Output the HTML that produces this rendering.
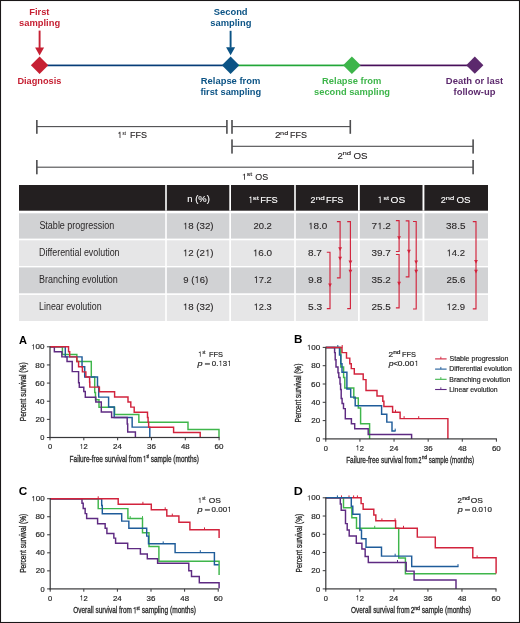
<!DOCTYPE html>
<html><head><meta charset="utf-8"><style>
html,body{margin:0;padding:0;background:#fff;}
svg{display:block;font-family:"Liberation Sans",sans-serif;will-change:transform;}
</style></head><body>
<svg width="520" height="623" viewBox="0 0 520 623">
<rect x="0" y="0" width="520" height="623" fill="#fff"/>
<rect x="47" y="64.55" width="177" height="1.7" fill="#063d78"/>
<rect x="237" y="64.55" width="108" height="1.7" fill="#22a638"/>
<rect x="358" y="64.55" width="110" height="1.7" fill="#470f5a"/>
<path d="M30.90,65.20 L39.60,56.50 L48.30,65.20 L39.60,73.90 Z" fill="#c62033"/>
<path d="M221.90,65.20 L230.60,56.50 L239.30,65.20 L230.60,73.90 Z" fill="#0b5385"/>
<path d="M343.10,65.20 L351.90,56.40 L360.70,65.20 L351.90,74.00 Z" fill="#3db54a"/>
<path d="M466.20,65.20 L474.80,56.60 L483.40,65.20 L474.80,73.80 Z" fill="#5c296d"/>
<rect x="38.65" y="30.60" width="1.9" height="17.50" fill="#c62033"/>
<path d="M35.10,47.60 L44.10,47.60 L39.60,55.60 Z" fill="#c62033"/>
<rect x="229.65" y="30.80" width="1.9" height="16.90" fill="#0b5385"/>
<path d="M226.10,47.20 L235.10,47.20 L230.60,55.20 Z" fill="#0b5385"/>
<text x="29.18" y="14.90" font-size="9.3" font-weight="bold" fill="#c62033" textLength="20.32" lengthAdjust="spacingAndGlyphs">First</text>
<text x="19.06" y="26.00" font-size="9.3" font-weight="bold" fill="#c62033" textLength="41.07" lengthAdjust="spacingAndGlyphs">sampling</text>
<text x="17.39" y="84.00" font-size="9.3" font-weight="bold" fill="#c62033" textLength="43.98" lengthAdjust="spacingAndGlyphs">Diagnosis</text>
<text x="213.72" y="15.20" font-size="9.3" font-weight="bold" fill="#0b5385" textLength="33.88" lengthAdjust="spacingAndGlyphs">Second</text>
<text x="210.26" y="25.90" font-size="9.3" font-weight="bold" fill="#0b5385" textLength="41.17" lengthAdjust="spacingAndGlyphs">sampling</text>
<text x="200.78" y="84.30" font-size="9.3" font-weight="bold" fill="#0b5385" textLength="59.60" lengthAdjust="spacingAndGlyphs">Relapse from</text>
<text x="200.45" y="95.10" font-size="9.3" font-weight="bold" fill="#0b5385" textLength="60.77" lengthAdjust="spacingAndGlyphs">first sampling</text>
<text x="322.08" y="83.90" font-size="9.3" font-weight="bold" fill="#3db54a" textLength="59.29" lengthAdjust="spacingAndGlyphs">Relapse from</text>
<text x="314.07" y="94.70" font-size="9.3" font-weight="bold" fill="#3db54a" textLength="75.95" lengthAdjust="spacingAndGlyphs">second sampling</text>
<text x="445.88" y="83.90" font-size="9.3" font-weight="bold" fill="#5c296d" textLength="57.23" lengthAdjust="spacingAndGlyphs">Death or last</text>
<text x="453.55" y="94.70" font-size="9.3" font-weight="bold" fill="#5c296d" textLength="41.84" lengthAdjust="spacingAndGlyphs">follow-up</text>
<rect x="36.85" y="126.05" width="190.05" height="1.1" fill="#4d4d4f"/>
<rect x="36.05" y="120.00" width="1.6" height="13.80" fill="#4d4d4f"/>
<rect x="226.10" y="120.00" width="1.6" height="13.80" fill="#4d4d4f"/>
<rect x="232.00" y="126.05" width="118.30" height="1.1" fill="#4d4d4f"/>
<rect x="231.20" y="120.00" width="1.6" height="13.80" fill="#4d4d4f"/>
<rect x="349.50" y="120.00" width="1.6" height="13.80" fill="#4d4d4f"/>
<rect x="232.00" y="145.75" width="241.10" height="1.1" fill="#4d4d4f"/>
<rect x="231.20" y="139.40" width="1.6" height="14.20" fill="#4d4d4f"/>
<rect x="472.30" y="139.40" width="1.6" height="14.20" fill="#4d4d4f"/>
<rect x="36.85" y="166.65" width="436.25" height="1.1" fill="#4d4d4f"/>
<rect x="36.05" y="160.00" width="1.6" height="14.30" fill="#4d4d4f"/>
<rect x="472.30" y="160.00" width="1.6" height="14.30" fill="#4d4d4f"/>
<path d="M119.62,131.81 L120.40,131.81 L120.40,137.90 L119.62,137.90 L119.62,133.38 L118.25,133.38 L118.25,132.81 C119.08,132.77 119.56,132.51 119.62,131.81 Z" fill="#231f20"/>
<text x="122.58" y="134.59" font-size="5.916" fill="#231f20" textLength="3.25" lengthAdjust="spacingAndGlyphs" stroke="#231f20" stroke-width="0.12">st</text>
<text x="130.06" y="137.90" font-size="8.7" fill="#231f20" textLength="16.94" lengthAdjust="spacingAndGlyphs" stroke="#231f20" stroke-width="0.12">FFS</text>
<text x="275.00" y="137.90" font-size="8.7" fill="#231f20" textLength="5.61" lengthAdjust="spacingAndGlyphs" stroke="#231f20" stroke-width="0.12">2</text>
<text x="280.12" y="134.59" font-size="5.916" fill="#231f20" textLength="8.16" lengthAdjust="spacingAndGlyphs" stroke="#231f20" stroke-width="0.12">nd</text>
<text x="290.12" y="137.90" font-size="8.7" fill="#231f20" textLength="16.88" lengthAdjust="spacingAndGlyphs" stroke="#231f20" stroke-width="0.12">FFS</text>
<text x="337.62" y="158.75" font-size="8.7" fill="#231f20" textLength="5.37" lengthAdjust="spacingAndGlyphs" stroke="#231f20" stroke-width="0.12">2</text>
<text x="342.49" y="155.44" font-size="5.916" fill="#231f20" textLength="8.61" lengthAdjust="spacingAndGlyphs" stroke="#231f20" stroke-width="0.12">nd</text>
<text x="353.53" y="158.75" font-size="8.7" fill="#231f20" textLength="14.11" lengthAdjust="spacingAndGlyphs" stroke="#231f20" stroke-width="0.12">OS</text>
<path d="M244.12,173.71 L244.90,173.71 L244.90,179.80 L244.12,179.80 L244.12,175.28 L242.75,175.28 L242.75,174.71 C243.58,174.67 244.06,174.41 244.12,173.71 Z" fill="#231f20"/>
<text x="246.65" y="176.49" font-size="5.916" fill="#231f20" textLength="5.50" lengthAdjust="spacingAndGlyphs" stroke="#231f20" stroke-width="0.12">st</text>
<text x="255.27" y="179.80" font-size="8.7" fill="#231f20" textLength="12.88" lengthAdjust="spacingAndGlyphs" stroke="#231f20" stroke-width="0.12">OS</text>
<rect x="19" y="185" width="469" height="25.7" fill="#231f20"/>
<rect x="165.20" y="185" width="1.60" height="25.7" fill="#fff"/>
<rect x="229.30" y="185" width="1.70" height="25.7" fill="#fff"/>
<rect x="294.20" y="185" width="1.60" height="25.7" fill="#fff"/>
<rect x="358.00" y="185" width="1.80" height="25.7" fill="#fff"/>
<rect x="422.50" y="185" width="1.90" height="25.7" fill="#fff"/>
<rect x="19.00" y="213.30" width="146.20" height="25.30" fill="#d1d2d4"/>
<rect x="166.80" y="213.30" width="62.50" height="25.30" fill="#d1d2d4"/>
<rect x="231.00" y="213.30" width="63.20" height="25.30" fill="#d1d2d4"/>
<rect x="295.80" y="213.30" width="62.20" height="25.30" fill="#d1d2d4"/>
<rect x="359.80" y="213.30" width="62.70" height="25.30" fill="#d1d2d4"/>
<rect x="424.40" y="213.30" width="63.60" height="25.30" fill="#d1d2d4"/>
<rect x="19.00" y="240.30" width="146.20" height="25.70" fill="#e6e6e7"/>
<rect x="166.80" y="240.30" width="62.50" height="25.70" fill="#e6e6e7"/>
<rect x="231.00" y="240.30" width="63.20" height="25.70" fill="#e6e6e7"/>
<rect x="295.80" y="240.30" width="62.20" height="25.70" fill="#e6e6e7"/>
<rect x="359.80" y="240.30" width="62.70" height="25.70" fill="#e6e6e7"/>
<rect x="424.40" y="240.30" width="63.60" height="25.70" fill="#e6e6e7"/>
<rect x="19.00" y="267.40" width="146.20" height="25.90" fill="#d1d2d4"/>
<rect x="166.80" y="267.40" width="62.50" height="25.90" fill="#d1d2d4"/>
<rect x="231.00" y="267.40" width="63.20" height="25.90" fill="#d1d2d4"/>
<rect x="295.80" y="267.40" width="62.20" height="25.90" fill="#d1d2d4"/>
<rect x="359.80" y="267.40" width="62.70" height="25.90" fill="#d1d2d4"/>
<rect x="424.40" y="267.40" width="63.60" height="25.90" fill="#d1d2d4"/>
<rect x="19.00" y="294.90" width="146.20" height="26.10" fill="#e6e6e7"/>
<rect x="166.80" y="294.90" width="62.50" height="26.10" fill="#e6e6e7"/>
<rect x="231.00" y="294.90" width="63.20" height="26.10" fill="#e6e6e7"/>
<rect x="295.80" y="294.90" width="62.20" height="26.10" fill="#e6e6e7"/>
<rect x="359.80" y="294.90" width="62.70" height="26.10" fill="#e6e6e7"/>
<rect x="424.40" y="294.90" width="63.60" height="26.10" fill="#e6e6e7"/>
<text x="187.38" y="202.30" font-size="9.3" fill="#ffffff" textLength="22.44" lengthAdjust="spacingAndGlyphs" stroke="#ffffff" stroke-width="0.12">n (%)</text>
<path d="M250.46,196.39 L251.30,196.39 L251.30,202.90 L250.46,202.90 L250.46,198.06 L249.00,198.06 L249.00,197.46 C249.89,197.41 250.40,197.13 250.46,196.39 Z" fill="#ffffff"/>
<text x="252.78" y="200.39" font-size="5.766" fill="#ffffff" textLength="6.03" lengthAdjust="spacingAndGlyphs" stroke="#ffffff" stroke-width="0.12">st</text>
<text x="260.24" y="202.90" font-size="9.3" fill="#ffffff" textLength="17.47" lengthAdjust="spacingAndGlyphs" stroke="#ffffff" stroke-width="0.12">FFS</text>
<text x="310.56" y="202.90" font-size="9.3" fill="#ffffff" textLength="4.88" lengthAdjust="spacingAndGlyphs" stroke="#ffffff" stroke-width="0.12">2</text>
<text x="315.66" y="200.11" font-size="5.766" fill="#ffffff" textLength="9.06" lengthAdjust="spacingAndGlyphs" stroke="#ffffff" stroke-width="0.12">nd</text>
<text x="326.05" y="202.90" font-size="9.3" fill="#ffffff" textLength="17.26" lengthAdjust="spacingAndGlyphs" stroke="#ffffff" stroke-width="0.12">FFS</text>
<path d="M379.76,196.39 L380.60,196.39 L380.60,202.90 L379.76,202.90 L379.76,198.06 L378.30,198.06 L378.30,197.46 C379.19,197.41 379.70,197.13 379.76,196.39 Z" fill="#ffffff"/>
<text x="383.55" y="200.11" font-size="5.766" fill="#ffffff" textLength="5.50" lengthAdjust="spacingAndGlyphs" stroke="#ffffff" stroke-width="0.12">st</text>
<text x="390.51" y="202.90" font-size="9.3" fill="#ffffff" textLength="14.69" lengthAdjust="spacingAndGlyphs" stroke="#ffffff" stroke-width="0.12">OS</text>
<text x="440.79" y="202.90" font-size="9.3" fill="#ffffff" textLength="5.06" lengthAdjust="spacingAndGlyphs" stroke="#ffffff" stroke-width="0.12">2</text>
<text x="445.85" y="200.11" font-size="5.766" fill="#ffffff" textLength="8.38" lengthAdjust="spacingAndGlyphs" stroke="#ffffff" stroke-width="0.12">nd</text>
<text x="456.43" y="202.90" font-size="9.3" fill="#ffffff" textLength="14.11" lengthAdjust="spacingAndGlyphs" stroke="#ffffff" stroke-width="0.12">OS</text>
<text x="39.39" y="229.30" font-size="10.0" fill="#2b2829" textLength="74.99" lengthAdjust="spacingAndGlyphs">Stable progression</text>
<text x="39.07" y="256.20" font-size="10.0" fill="#2b2829" textLength="80.50" lengthAdjust="spacingAndGlyphs">Differential evolution</text>
<text x="39.06" y="283.00" font-size="10.0" fill="#2b2829" textLength="78.81" lengthAdjust="spacingAndGlyphs">Branching evolution</text>
<text x="39.07" y="310.10" font-size="10.0" fill="#2b2829" textLength="62.50" lengthAdjust="spacingAndGlyphs">Linear evolution</text>
<path d="M185.33,222.65 L186.20,222.65 L186.20,229.30 L185.33,229.30 L185.33,224.36 L183.80,224.36 L183.80,223.74 C184.72,223.70 185.26,223.41 185.33,222.65 Z" fill="#2b2829"/>
<text x="188.19" y="229.30" font-size="9.5" fill="#2b2829" textLength="25.40" lengthAdjust="spacingAndGlyphs" stroke="#2b2829" stroke-width="0.12">8 (32)</text>
<text x="253.43" y="229.30" font-size="9.5" fill="#2b2829" textLength="18.40" lengthAdjust="spacingAndGlyphs" stroke="#2b2829" stroke-width="0.12">20.2</text>
<path d="M310.61,222.65 L311.51,222.65 L311.51,229.30 L310.61,229.30 L310.61,224.36 L309.05,224.36 L309.05,223.74 C310.00,223.70 310.54,223.41 310.61,222.65 Z" fill="#2b2829"/>
<text x="313.54" y="229.30" font-size="9.5" fill="#2b2829" textLength="13.84" lengthAdjust="spacingAndGlyphs" stroke="#2b2829" stroke-width="0.12">8.0</text>
<text x="371.48" y="229.30" font-size="9.5" fill="#2b2829" textLength="5.55" lengthAdjust="spacingAndGlyphs" stroke="#2b2829" stroke-width="0.12">7</text>
<path d="M379.64,222.65 L380.54,222.65 L380.54,229.30 L379.64,229.30 L379.64,224.36 L378.08,224.36 L378.08,223.74 C379.03,223.70 379.58,223.41 379.64,222.65 Z" fill="#2b2829"/>
<text x="382.58" y="229.30" font-size="9.5" fill="#2b2829" textLength="8.32" lengthAdjust="spacingAndGlyphs" stroke="#2b2829" stroke-width="0.12">.2</text>
<text x="446.12" y="229.30" font-size="9.5" fill="#2b2829" textLength="19.30" lengthAdjust="spacingAndGlyphs" stroke="#2b2829" stroke-width="0.12">38.5</text>
<path d="M185.33,249.55 L186.20,249.55 L186.20,256.20 L185.33,256.20 L185.33,251.26 L183.80,251.26 L183.80,250.64 C184.72,250.59 185.26,250.31 185.33,249.55 Z" fill="#2b2829"/>
<text x="188.19" y="256.20" font-size="9.5" fill="#2b2829" textLength="16.76" lengthAdjust="spacingAndGlyphs" stroke="#2b2829" stroke-width="0.12">2 (2</text>
<path d="M207.49,249.55 L208.36,249.55 L208.36,256.20 L207.49,256.20 L207.49,251.26 L205.96,251.26 L205.96,250.64 C206.89,250.59 207.42,250.31 207.49,249.55 Z" fill="#2b2829"/>
<text x="210.35" y="256.20" font-size="9.5" fill="#2b2829" textLength="3.24" lengthAdjust="spacingAndGlyphs" stroke="#2b2829" stroke-width="0.12">)</text>
<path d="M255.36,249.55 L256.26,249.55 L256.26,256.20 L255.36,256.20 L255.36,251.26 L253.80,251.26 L253.80,250.64 C254.75,250.59 255.29,250.31 255.36,249.55 Z" fill="#2b2829"/>
<text x="258.29" y="256.20" font-size="9.5" fill="#2b2829" textLength="13.84" lengthAdjust="spacingAndGlyphs" stroke="#2b2829" stroke-width="0.12">6.0</text>
<text x="308.06" y="256.20" font-size="9.5" fill="#2b2829" textLength="13.84" lengthAdjust="spacingAndGlyphs" stroke="#2b2829" stroke-width="0.12">8.7</text>
<text x="371.62" y="256.20" font-size="9.5" fill="#2b2829" textLength="19.27" lengthAdjust="spacingAndGlyphs" stroke="#2b2829" stroke-width="0.12">39.7</text>
<path d="M448.94,249.55 L449.80,249.55 L449.80,256.20 L448.94,256.20 L448.94,251.26 L447.45,251.26 L447.45,250.64 C448.35,250.59 448.88,250.31 448.94,249.55 Z" fill="#2b2829"/>
<text x="451.74" y="256.20" font-size="9.5" fill="#2b2829" textLength="13.24" lengthAdjust="spacingAndGlyphs" stroke="#2b2829" stroke-width="0.12">4.2</text>
<text x="183.31" y="283.00" font-size="9.5" fill="#2b2829" textLength="11.06" lengthAdjust="spacingAndGlyphs" stroke="#2b2829" stroke-width="0.12">9 (</text>
<path d="M196.86,276.35 L197.71,276.35 L197.71,283.00 L196.86,283.00 L196.86,278.06 L195.37,278.06 L195.37,277.44 C196.27,277.39 196.79,277.11 196.86,276.35 Z" fill="#2b2829"/>
<text x="199.64" y="283.00" font-size="9.5" fill="#2b2829" textLength="8.43" lengthAdjust="spacingAndGlyphs" stroke="#2b2829" stroke-width="0.12">6)</text>
<path d="M256.01,276.35 L256.85,276.35 L256.85,283.00 L256.01,283.00 L256.01,278.06 L254.55,278.06 L254.55,277.44 C255.43,277.39 255.95,277.11 256.01,276.35 Z" fill="#2b2829"/>
<text x="258.75" y="283.00" font-size="9.5" fill="#2b2829" textLength="12.96" lengthAdjust="spacingAndGlyphs" stroke="#2b2829" stroke-width="0.12">7.2</text>
<text x="308.03" y="283.00" font-size="9.5" fill="#2b2829" textLength="14.22" lengthAdjust="spacingAndGlyphs" stroke="#2b2829" stroke-width="0.12">9.8</text>
<text x="371.62" y="283.00" font-size="9.5" fill="#2b2829" textLength="19.27" lengthAdjust="spacingAndGlyphs" stroke="#2b2829" stroke-width="0.12">35.2</text>
<text x="446.51" y="283.00" font-size="9.5" fill="#2b2829" textLength="18.92" lengthAdjust="spacingAndGlyphs" stroke="#2b2829" stroke-width="0.12">25.6</text>
<path d="M185.33,303.45 L186.20,303.45 L186.20,310.10 L185.33,310.10 L185.33,305.16 L183.80,305.16 L183.80,304.54 C184.72,304.50 185.26,304.21 185.33,303.45 Z" fill="#2b2829"/>
<text x="188.19" y="310.10" font-size="9.5" fill="#2b2829" textLength="25.40" lengthAdjust="spacingAndGlyphs" stroke="#2b2829" stroke-width="0.12">8 (32)</text>
<path d="M256.01,303.45 L256.84,303.45 L256.84,310.10 L256.01,310.10 L256.01,305.16 L254.55,305.16 L254.55,304.54 C255.43,304.50 255.94,304.21 256.01,303.45 Z" fill="#2b2829"/>
<text x="258.74" y="310.10" font-size="9.5" fill="#2b2829" textLength="12.92" lengthAdjust="spacingAndGlyphs" stroke="#2b2829" stroke-width="0.12">2.3</text>
<text x="308.09" y="310.10" font-size="9.5" fill="#2b2829" textLength="14.16" lengthAdjust="spacingAndGlyphs" stroke="#2b2829" stroke-width="0.12">5.3</text>
<text x="371.50" y="310.10" font-size="9.5" fill="#2b2829" textLength="19.32" lengthAdjust="spacingAndGlyphs" stroke="#2b2829" stroke-width="0.12">25.5</text>
<path d="M448.94,303.45 L449.80,303.45 L449.80,310.10 L448.94,310.10 L448.94,305.16 L447.45,305.16 L447.45,304.54 C448.35,304.50 448.87,304.21 448.94,303.45 Z" fill="#2b2829"/>
<text x="451.74" y="310.10" font-size="9.5" fill="#2b2829" textLength="13.22" lengthAdjust="spacingAndGlyphs" stroke="#2b2829" stroke-width="0.12">2.9</text>
<path d="M336.90,221.60 H340.10 V277.80 H336.90" fill="none" stroke="#d2233c" stroke-width="1.15"/>
<path d="M338.20,247.30 L342.00,247.30 L340.10,250.90 Z" fill="#d2233c"/>
<path d="M338.20,256.80 L342.00,256.80 L340.10,260.40 Z" fill="#d2233c"/>
<path d="M347.20,221.60 H350.40 V308.60 H347.20" fill="none" stroke="#d2233c" stroke-width="1.15"/>
<path d="M348.50,260.60 L352.30,260.60 L350.40,264.20 Z" fill="#d2233c"/>
<path d="M348.50,269.80 L352.30,269.80 L350.40,273.40 Z" fill="#d2233c"/>
<path d="M326.80,252.20 H330.00 V308.60 H326.80" fill="none" stroke="#d2233c" stroke-width="1.15"/>
<path d="M328.10,283.40 L331.90,283.40 L330.00,287.00 Z" fill="#d2233c"/>
<path d="M395.90,220.60 H399.10 V251.50 H395.90" fill="none" stroke="#d2233c" stroke-width="1.15"/>
<path d="M397.20,236.20 L401.00,236.20 L399.10,239.80 Z" fill="#d2233c"/>
<path d="M395.90,254.50 H399.10 V307.80 H395.90" fill="none" stroke="#d2233c" stroke-width="1.15"/>
<path d="M397.20,281.80 L401.00,281.80 L399.10,285.40 Z" fill="#d2233c"/>
<path d="M405.70,220.80 H408.90 V276.80 H405.70" fill="none" stroke="#d2233c" stroke-width="1.15"/>
<path d="M407.00,249.80 L410.80,249.80 L408.90,253.40 Z" fill="#d2233c"/>
<path d="M413.00,221.50 H416.20 V309.00 H413.00" fill="none" stroke="#d2233c" stroke-width="1.15"/>
<path d="M414.30,260.40 L418.10,260.40 L416.20,264.00 Z" fill="#d2233c"/>
<path d="M414.30,269.80 L418.10,269.80 L416.20,273.40 Z" fill="#d2233c"/>
<path d="M472.80,221.60 H476.00 V308.80 H472.80" fill="none" stroke="#d2233c" stroke-width="1.15"/>
<path d="M474.10,260.10 L477.90,260.10 L476.00,263.70 Z" fill="#d2233c"/>
<path d="M474.10,269.80 L477.90,269.80 L476.00,273.40 Z" fill="#d2233c"/>
<text x="18.91" y="343.50" font-size="10.9" font-weight="bold" fill="#000" textLength="7.98" lengthAdjust="spacingAndGlyphs">A</text>
<rect x="46.90" y="437.00" width="3.1" height="1.0" fill="#38383a"/>
<text x="40.27" y="440.10" font-size="7.4" fill="#2a2a2a" textLength="4.17" lengthAdjust="spacingAndGlyphs" stroke="#2a2a2a" stroke-width="0.2">0</text>
<rect x="46.90" y="418.86" width="3.1" height="1.0" fill="#38383a"/>
<text x="35.55" y="421.96" font-size="7.4" fill="#2a2a2a" textLength="8.91" lengthAdjust="spacingAndGlyphs" stroke="#2a2a2a" stroke-width="0.2">20</text>
<rect x="46.90" y="400.72" width="3.1" height="1.0" fill="#38383a"/>
<text x="35.57" y="403.82" font-size="7.4" fill="#2a2a2a" textLength="8.88" lengthAdjust="spacingAndGlyphs" stroke="#2a2a2a" stroke-width="0.2">40</text>
<rect x="46.90" y="382.58" width="3.1" height="1.0" fill="#38383a"/>
<text x="35.34" y="385.68" font-size="7.4" fill="#2a2a2a" textLength="9.12" lengthAdjust="spacingAndGlyphs" stroke="#2a2a2a" stroke-width="0.2">60</text>
<rect x="46.90" y="364.44" width="3.1" height="1.0" fill="#38383a"/>
<text x="35.39" y="367.54" font-size="7.4" fill="#2a2a2a" textLength="9.07" lengthAdjust="spacingAndGlyphs" stroke="#2a2a2a" stroke-width="0.2">80</text>
<rect x="46.90" y="346.30" width="3.1" height="1.0" fill="#38383a"/>
<path d="M33.15,344.22 L33.88,344.22 L33.88,349.40 L33.15,349.40 L33.15,345.55 L31.89,345.55 L31.89,345.07 C32.65,345.03 33.10,344.81 33.15,344.22 Z" fill="#2a2a2a"/>
<text x="35.52" y="349.40" font-size="7.4" fill="#2a2a2a" textLength="8.94" lengthAdjust="spacingAndGlyphs" stroke="#2a2a2a" stroke-width="0.2">00</text>
<rect x="49.50" y="437.50" width="1.0" height="2.8" fill="#38383a"/>
<text x="47.92" y="449.10" font-size="7.4" fill="#2a2a2a" textLength="4.17" lengthAdjust="spacingAndGlyphs" stroke="#2a2a2a" stroke-width="0.2">0</text>
<rect x="83.32" y="437.50" width="1.0" height="2.8" fill="#38383a"/>
<path d="M81.40,443.92 L82.08,443.92 L82.08,449.10 L81.40,449.10 L81.40,445.25 L80.21,445.25 L80.21,444.77 C80.93,444.73 81.35,444.51 81.40,443.92 Z" fill="#2a2a2a"/>
<text x="83.63" y="449.10" font-size="7.4" fill="#2a2a2a" textLength="4.22" lengthAdjust="spacingAndGlyphs" stroke="#2a2a2a" stroke-width="0.2">2</text>
<rect x="117.14" y="437.50" width="1.0" height="2.8" fill="#38383a"/>
<text x="113.14" y="449.10" font-size="7.4" fill="#2a2a2a" textLength="8.82" lengthAdjust="spacingAndGlyphs" stroke="#2a2a2a" stroke-width="0.2">24</text>
<rect x="150.96" y="437.50" width="1.0" height="2.8" fill="#38383a"/>
<text x="147.06" y="449.10" font-size="7.4" fill="#2a2a2a" textLength="8.86" lengthAdjust="spacingAndGlyphs" stroke="#2a2a2a" stroke-width="0.2">36</text>
<rect x="184.78" y="437.50" width="1.0" height="2.8" fill="#38383a"/>
<text x="181.01" y="449.10" font-size="7.4" fill="#2a2a2a" textLength="8.72" lengthAdjust="spacingAndGlyphs" stroke="#2a2a2a" stroke-width="0.2">48</text>
<rect x="218.60" y="437.50" width="1.0" height="2.8" fill="#38383a"/>
<text x="214.60" y="449.10" font-size="7.4" fill="#2a2a2a" textLength="8.91" lengthAdjust="spacingAndGlyphs" stroke="#2a2a2a" stroke-width="0.2">60</text>
<path d="M50.00,346.80 H62.4 V354.5 H76.85 V361.5 H91.3 V377 H94.7 V392.5 H95.5 V399.7 H99 V407.2 H114.6 V414.5 H138.85 V422.2 H188.0 V429.4 H219 V437.2" fill="none" stroke="#3fb64b" stroke-width="1.45" stroke-linejoin="miter" stroke-linecap="butt"/>
<path d="M50.00,346.80 H65.3 V356.85 H82.04 V366.65 H84.7 V377 H97.5 V386.5 H98.7 V397.1 H108.6 V406.9 H114.2 V417.4 H132.15 V427.1 H149.8 V437.2" fill="none" stroke="#1f5c9a" stroke-width="1.45" stroke-linejoin="miter" stroke-linecap="butt"/>
<path d="M50.00,346.80 H54.35 V351.65 H61.85 V356.85 H67.04 V361.46 H72.23 V371.6 H78.58 V382.8 H79.3 V387.3 H83.8 V391.5 H85.3 V397.2 H95.8 V402 H101.3 V412 H111.6 V417.4 H127.2 V424 H127.7 V431.9 H135.4 V437.2" fill="none" stroke="#5e2a82" stroke-width="1.45" stroke-linejoin="miter" stroke-linecap="butt"/>
<path d="M50.00,346.80 H68.54 V351.65 H69.7 V356.85 H76.85 V361.46 H78.58 V366.65 H82.4 V371.85 H85.85 V377 H89.6 V382 H89.8 V387.1 H99.4 V391.8 H114.6 V397 H128.0 V401.9 H130.8 V407.1 H134.2 V412.3 H147.5 V417.5 H148.1 V422.3 H148.65 V427.2 H173.6 V432.5 H200.2 V437.2" fill="none" stroke="#d2233c" stroke-width="1.45" stroke-linejoin="miter" stroke-linecap="butt"/>
<rect x="49.40" y="346.30" width="1.2" height="91.80" fill="#38383a"/>
<rect x="49.40" y="436.90" width="170.20" height="1.2" fill="#38383a"/>
<g transform="translate(26.00,420.70) rotate(-90)">
<text x="-0.54" y="0.00" font-size="9.0" fill="#2a2a2a" textLength="58.84" lengthAdjust="spacingAndGlyphs" stroke="#2a2a2a" stroke-width="0.32">Percent survival (%)</text>
</g>
<text x="69.56" y="462.00" font-size="9.0" fill="#2a2a2a" textLength="72.36" lengthAdjust="spacingAndGlyphs" stroke="#2a2a2a" stroke-width="0.32">Failure-free survival from</text>
<path d="M144.39,455.70 L145.20,455.70 L145.20,462.00 L144.39,462.00 L144.39,457.32 L142.98,457.32 L142.98,456.74 C143.83,456.69 144.33,456.42 144.39,455.70 Z" fill="#2a2a2a"/>
<text x="146.41" y="458.40" font-size="5.3999999999999995" fill="#2a2a2a" textLength="2.52" lengthAdjust="spacingAndGlyphs" stroke="#2a2a2a" stroke-width="0.32">st</text>
<text x="150.72" y="462.00" font-size="9.0" fill="#2a2a2a" textLength="48.17" lengthAdjust="spacingAndGlyphs" stroke="#2a2a2a" stroke-width="0.32">sample (months)</text>
<path d="M199.93,351.57 L200.60,351.57 L200.60,356.75 L199.93,356.75 L199.93,352.90 L198.77,352.90 L198.77,352.42 C199.48,352.38 199.88,352.16 199.93,351.57 Z" fill="#2a2a2a"/>
<text x="202.39" y="353.64" font-size="4.44" fill="#2a2a2a" textLength="3.04" lengthAdjust="spacingAndGlyphs" stroke="#2a2a2a" stroke-width="0.2">st</text>
<text x="209.10" y="356.75" font-size="7.4" fill="#2a2a2a" textLength="13.93" lengthAdjust="spacingAndGlyphs" stroke="#2a2a2a" stroke-width="0.2">FFS</text>
<text x="197.42" y="365.90" font-size="7.4" font-style="italic" fill="#2a2a2a" textLength="5.07" lengthAdjust="spacingAndGlyphs" stroke="#2a2a2a" stroke-width="0.2">p</text>
<rect x="204.90" y="362.95" width="5.00" height="1.9" fill="#767676"/>
<text x="211.80" y="365.90" font-size="7.4" fill="#2a2a2a" textLength="6.57" lengthAdjust="spacingAndGlyphs" stroke="#2a2a2a" stroke-width="0.2">0.</text>
<path d="M220.44,360.72 L221.15,360.72 L221.15,365.90 L220.44,365.90 L220.44,362.05 L219.20,362.05 L219.20,361.57 C219.95,361.53 220.38,361.31 220.44,360.72 Z" fill="#2a2a2a"/>
<text x="222.76" y="365.90" font-size="7.4" fill="#2a2a2a" textLength="4.38" lengthAdjust="spacingAndGlyphs" stroke="#2a2a2a" stroke-width="0.2">3</text>
<path d="M229.21,360.72 L229.92,360.72 L229.92,365.90 L229.21,365.90 L229.21,362.05 L227.97,362.05 L227.97,361.57 C228.72,361.53 229.15,361.31 229.21,360.72 Z" fill="#2a2a2a"/>
<text x="294.13" y="343.20" font-size="10.9" font-weight="bold" fill="#000" textLength="8.41" lengthAdjust="spacingAndGlyphs">B</text>
<rect x="322.70" y="438.40" width="3.1" height="1.0" fill="#38383a"/>
<text x="316.06" y="441.50" font-size="7.4" fill="#2a2a2a" textLength="4.17" lengthAdjust="spacingAndGlyphs" stroke="#2a2a2a" stroke-width="0.2">0</text>
<rect x="322.70" y="420.10" width="3.1" height="1.0" fill="#38383a"/>
<text x="311.35" y="423.20" font-size="7.4" fill="#2a2a2a" textLength="8.91" lengthAdjust="spacingAndGlyphs" stroke="#2a2a2a" stroke-width="0.2">20</text>
<rect x="322.70" y="401.80" width="3.1" height="1.0" fill="#38383a"/>
<text x="311.37" y="404.90" font-size="7.4" fill="#2a2a2a" textLength="8.88" lengthAdjust="spacingAndGlyphs" stroke="#2a2a2a" stroke-width="0.2">40</text>
<rect x="322.70" y="383.50" width="3.1" height="1.0" fill="#38383a"/>
<text x="311.14" y="386.60" font-size="7.4" fill="#2a2a2a" textLength="9.12" lengthAdjust="spacingAndGlyphs" stroke="#2a2a2a" stroke-width="0.2">60</text>
<rect x="322.70" y="365.20" width="3.1" height="1.0" fill="#38383a"/>
<text x="311.19" y="368.30" font-size="7.4" fill="#2a2a2a" textLength="9.07" lengthAdjust="spacingAndGlyphs" stroke="#2a2a2a" stroke-width="0.2">80</text>
<rect x="322.70" y="346.90" width="3.1" height="1.0" fill="#38383a"/>
<path d="M308.95,344.82 L309.68,344.82 L309.68,350.00 L308.95,350.00 L308.95,346.15 L307.69,346.15 L307.69,345.67 C308.45,345.63 308.90,345.41 308.95,344.82 Z" fill="#2a2a2a"/>
<text x="311.32" y="350.00" font-size="7.4" fill="#2a2a2a" textLength="8.94" lengthAdjust="spacingAndGlyphs" stroke="#2a2a2a" stroke-width="0.2">00</text>
<rect x="325.30" y="438.90" width="1.0" height="2.8" fill="#38383a"/>
<text x="323.71" y="450.50" font-size="7.4" fill="#2a2a2a" textLength="4.17" lengthAdjust="spacingAndGlyphs" stroke="#2a2a2a" stroke-width="0.2">0</text>
<rect x="359.42" y="438.90" width="1.0" height="2.8" fill="#38383a"/>
<path d="M357.50,445.32 L358.18,445.32 L358.18,450.50 L357.50,450.50 L357.50,446.65 L356.31,446.65 L356.31,446.17 C357.03,446.13 357.45,445.91 357.50,445.32 Z" fill="#2a2a2a"/>
<text x="359.73" y="450.50" font-size="7.4" fill="#2a2a2a" textLength="4.22" lengthAdjust="spacingAndGlyphs" stroke="#2a2a2a" stroke-width="0.2">2</text>
<rect x="393.54" y="438.90" width="1.0" height="2.8" fill="#38383a"/>
<text x="389.54" y="450.50" font-size="7.4" fill="#2a2a2a" textLength="8.82" lengthAdjust="spacingAndGlyphs" stroke="#2a2a2a" stroke-width="0.2">24</text>
<rect x="427.66" y="438.90" width="1.0" height="2.8" fill="#38383a"/>
<text x="423.76" y="450.50" font-size="7.4" fill="#2a2a2a" textLength="8.86" lengthAdjust="spacingAndGlyphs" stroke="#2a2a2a" stroke-width="0.2">36</text>
<rect x="461.78" y="438.90" width="1.0" height="2.8" fill="#38383a"/>
<text x="458.01" y="450.50" font-size="7.4" fill="#2a2a2a" textLength="8.72" lengthAdjust="spacingAndGlyphs" stroke="#2a2a2a" stroke-width="0.2">48</text>
<rect x="495.90" y="438.90" width="1.0" height="2.8" fill="#38383a"/>
<text x="491.90" y="450.50" font-size="7.4" fill="#2a2a2a" textLength="8.91" lengthAdjust="spacingAndGlyphs" stroke="#2a2a2a" stroke-width="0.2">60</text>
<path d="M325.80,347.40 H340.8 V367 H343.6 V377.5 H344.8 V388 H353.8 V398 H358.3 V407.9 H360.6 V423.8 H369.6 V438.9" fill="none" stroke="#3fb64b" stroke-width="1.45" stroke-linejoin="miter" stroke-linecap="butt"/>
<path d="M325.80,347.40 H339.5 V355 H340.8 V363.8 H342 V372.3 H346.9 V389 H350.7 V397.1 H355.2 V405.8 H381.6 V414.2 H386.8 V422.1 H392 V431 H395.6" fill="none" stroke="#1f5c9a" stroke-width="1.45" stroke-linejoin="miter" stroke-linecap="butt"/>
<rect x="337.30" y="345.00" width="1.0" height="2.4" fill="#1f5c9a"/>
<rect x="394.70" y="428.60" width="1.0" height="2.4" fill="#1f5c9a"/>
<path d="M325.80,347.40 H334.6 V352.6 H335.2 V359.8 H336 V367 H338 V372.7 H338.8 V377.5 H340 V383.9 H340.6 V389.5 H341.2 V398.5 H342.1 V403.4 H343.5 V408.6 H345.3 V418.7 H351.4 V423.7 H354.7 V428.8 H368.2 V434.4 H411.6 V438.9" fill="none" stroke="#5e2a82" stroke-width="1.45" stroke-linejoin="miter" stroke-linecap="butt"/>
<path d="M325.80,347.40 H342 V352.6 H346.5 V358.1 H349.8 V363.8 H351.3 V368.6 H354.3 V374 H363.2 V379.6 H366 V390.5 H377 V396 H382.8 V401.3 H383.9 V406.4 H392.6 V412.2 H400.1 V418.6 H447.9 V438.9" fill="none" stroke="#d2233c" stroke-width="1.45" stroke-linejoin="miter" stroke-linecap="butt"/>
<rect x="341.70" y="345.00" width="1.0" height="2.4" fill="#d2233c"/>
<rect x="395.00" y="409.80" width="1.0" height="2.4" fill="#d2233c"/>
<rect x="403.60" y="416.20" width="1.0" height="2.4" fill="#d2233c"/>
<rect x="418.20" y="416.20" width="1.0" height="2.4" fill="#d2233c"/>
<rect x="325.20" y="346.90" width="1.2" height="92.60" fill="#38383a"/>
<rect x="325.20" y="438.30" width="171.70" height="1.2" fill="#38383a"/>
<g transform="translate(301.25,421.90) rotate(-90)">
<text x="-0.54" y="0.00" font-size="9.0" fill="#2a2a2a" textLength="58.84" lengthAdjust="spacingAndGlyphs" stroke="#2a2a2a" stroke-width="0.32">Percent survival (%)</text>
</g>
<text x="346.17" y="462.80" font-size="9.0" fill="#2a2a2a" textLength="71.44" lengthAdjust="spacingAndGlyphs" stroke="#2a2a2a" stroke-width="0.32">Failure-free survival from</text>
<text x="418.59" y="462.80" font-size="9.0" fill="#2a2a2a" textLength="2.87" lengthAdjust="spacingAndGlyphs" stroke="#2a2a2a" stroke-width="0.32">2</text>
<text x="421.90" y="459.20" font-size="5.3999999999999995" fill="#2a2a2a" textLength="4.98" lengthAdjust="spacingAndGlyphs" stroke="#2a2a2a" stroke-width="0.32">nd</text>
<text x="428.73" y="462.80" font-size="9.0" fill="#2a2a2a" textLength="45.44" lengthAdjust="spacingAndGlyphs" stroke="#2a2a2a" stroke-width="0.32">sample (months)</text>
<text x="388.58" y="356.75" font-size="7.4" fill="#2a2a2a" textLength="4.63" lengthAdjust="spacingAndGlyphs" stroke="#2a2a2a" stroke-width="0.2">2</text>
<text x="393.16" y="353.64" font-size="4.44" fill="#2a2a2a" textLength="7.36" lengthAdjust="spacingAndGlyphs" stroke="#2a2a2a" stroke-width="0.2">nd</text>
<text x="402.10" y="356.75" font-size="7.4" fill="#2a2a2a" textLength="13.93" lengthAdjust="spacingAndGlyphs" stroke="#2a2a2a" stroke-width="0.2">FFS</text>
<text x="388.81" y="365.90" font-size="7.4" font-style="italic" fill="#2a2a2a" textLength="4.87" lengthAdjust="spacingAndGlyphs" stroke="#2a2a2a" stroke-width="0.2">p</text>
<text x="393.41" y="365.90" font-size="7.4" fill="#2a2a2a" textLength="4.57" lengthAdjust="spacingAndGlyphs" stroke="#2a2a2a" stroke-width="0.2">&lt;</text>
<text x="397.88" y="365.90" font-size="7.4" fill="#2a2a2a" textLength="16.29" lengthAdjust="spacingAndGlyphs" stroke="#2a2a2a" stroke-width="0.2">0.00</text>
<path d="M416.36,360.72 L417.12,360.72 L417.12,365.90 L416.36,365.90 L416.36,362.05 L415.05,362.05 L415.05,361.57 C415.84,361.53 416.30,361.31 416.36,360.72 Z" fill="#2a2a2a"/>
<text x="18.73" y="495.00" font-size="10.9" font-weight="bold" fill="#000" textLength="8.50" lengthAdjust="spacingAndGlyphs">C</text>
<rect x="47.10" y="588.40" width="3.1" height="1.0" fill="#38383a"/>
<text x="40.47" y="591.50" font-size="7.4" fill="#2a2a2a" textLength="4.17" lengthAdjust="spacingAndGlyphs" stroke="#2a2a2a" stroke-width="0.2">0</text>
<rect x="47.10" y="570.36" width="3.1" height="1.0" fill="#38383a"/>
<text x="35.75" y="573.46" font-size="7.4" fill="#2a2a2a" textLength="8.91" lengthAdjust="spacingAndGlyphs" stroke="#2a2a2a" stroke-width="0.2">20</text>
<rect x="47.10" y="552.32" width="3.1" height="1.0" fill="#38383a"/>
<text x="35.77" y="555.42" font-size="7.4" fill="#2a2a2a" textLength="8.88" lengthAdjust="spacingAndGlyphs" stroke="#2a2a2a" stroke-width="0.2">40</text>
<rect x="47.10" y="534.28" width="3.1" height="1.0" fill="#38383a"/>
<text x="35.54" y="537.38" font-size="7.4" fill="#2a2a2a" textLength="9.12" lengthAdjust="spacingAndGlyphs" stroke="#2a2a2a" stroke-width="0.2">60</text>
<rect x="47.10" y="516.24" width="3.1" height="1.0" fill="#38383a"/>
<text x="35.59" y="519.34" font-size="7.4" fill="#2a2a2a" textLength="9.07" lengthAdjust="spacingAndGlyphs" stroke="#2a2a2a" stroke-width="0.2">80</text>
<rect x="47.10" y="498.20" width="3.1" height="1.0" fill="#38383a"/>
<path d="M33.35,496.12 L34.08,496.12 L34.08,501.30 L33.35,501.30 L33.35,497.45 L32.09,497.45 L32.09,496.97 C32.85,496.93 33.30,496.71 33.35,496.12 Z" fill="#2a2a2a"/>
<text x="35.72" y="501.30" font-size="7.4" fill="#2a2a2a" textLength="8.94" lengthAdjust="spacingAndGlyphs" stroke="#2a2a2a" stroke-width="0.2">00</text>
<rect x="49.70" y="588.90" width="1.0" height="2.8" fill="#38383a"/>
<text x="48.12" y="600.50" font-size="7.4" fill="#2a2a2a" textLength="4.17" lengthAdjust="spacingAndGlyphs" stroke="#2a2a2a" stroke-width="0.2">0</text>
<rect x="83.30" y="588.90" width="1.0" height="2.8" fill="#38383a"/>
<path d="M81.38,595.32 L82.06,595.32 L82.06,600.50 L81.38,600.50 L81.38,596.65 L80.19,596.65 L80.19,596.17 C80.91,596.13 81.33,595.91 81.38,595.32 Z" fill="#2a2a2a"/>
<text x="83.61" y="600.50" font-size="7.4" fill="#2a2a2a" textLength="4.22" lengthAdjust="spacingAndGlyphs" stroke="#2a2a2a" stroke-width="0.2">2</text>
<rect x="116.90" y="588.90" width="1.0" height="2.8" fill="#38383a"/>
<text x="112.90" y="600.50" font-size="7.4" fill="#2a2a2a" textLength="8.82" lengthAdjust="spacingAndGlyphs" stroke="#2a2a2a" stroke-width="0.2">24</text>
<rect x="150.50" y="588.90" width="1.0" height="2.8" fill="#38383a"/>
<text x="146.60" y="600.50" font-size="7.4" fill="#2a2a2a" textLength="8.86" lengthAdjust="spacingAndGlyphs" stroke="#2a2a2a" stroke-width="0.2">36</text>
<rect x="184.10" y="588.90" width="1.0" height="2.8" fill="#38383a"/>
<text x="180.33" y="600.50" font-size="7.4" fill="#2a2a2a" textLength="8.72" lengthAdjust="spacingAndGlyphs" stroke="#2a2a2a" stroke-width="0.2">48</text>
<rect x="217.70" y="588.90" width="1.0" height="2.8" fill="#38383a"/>
<text x="213.70" y="600.50" font-size="7.4" fill="#2a2a2a" textLength="8.91" lengthAdjust="spacingAndGlyphs" stroke="#2a2a2a" stroke-width="0.2">60</text>
<path d="M50.20,498.70 H98.2 V508.6 H127.9 V518.5 H142.5 V532.7 H149 V546.4 H158.9 V561.3 H219.1 V575" fill="none" stroke="#3fb64b" stroke-width="1.45" stroke-linejoin="miter" stroke-linecap="butt"/>
<rect x="129.70" y="516.10" width="1.0" height="2.4" fill="#3fb64b"/>
<rect x="142.00" y="516.10" width="1.0" height="2.4" fill="#3fb64b"/>
<path d="M50.20,498.70 H101.7 V505.5 H102.3 V513.7 H121.7 V521.1 H128.85 V528.3 H146.7 V536.1 H148.5 V543.8 H175.1 V552.6 H214.4 V564.7 H218.7" fill="none" stroke="#1f5c9a" stroke-width="1.45" stroke-linejoin="miter" stroke-linecap="butt"/>
<rect x="162.70" y="541.40" width="1.0" height="2.4" fill="#1f5c9a"/>
<rect x="199.80" y="550.20" width="1.0" height="2.4" fill="#1f5c9a"/>
<path d="M50.20,498.70 H82 V503.2 H83.2 V508.4 H85.15 V513.6 H86.65 V518.5 H97.6 V523.8 H105.15 V528.3 H106.9 V533.5 H113.85 V538.1 H115.6 V543.3 H127.7 V548.6 H140.4 V553.9 H147.3 V558.7 H157.6 V563.3 H188.8 V570.7 H191.5 V576.5 H199.3 V582.8 H219.1 V588.5" fill="none" stroke="#5e2a82" stroke-width="1.45" stroke-linejoin="miter" stroke-linecap="butt"/>
<path d="M50.20,498.70 H118.2 V504.2 H151.3 V509.7 H166.8 V516 H178.9 V522.3 H189.9 V529.8 H219.1 V538" fill="none" stroke="#d2233c" stroke-width="1.45" stroke-linejoin="miter" stroke-linecap="butt"/>
<rect x="97.70" y="496.30" width="1.0" height="2.4" fill="#d2233c"/>
<rect x="142.40" y="501.80" width="1.0" height="2.4" fill="#d2233c"/>
<rect x="164.70" y="507.30" width="1.0" height="2.4" fill="#d2233c"/>
<rect x="171.80" y="513.60" width="1.0" height="2.4" fill="#d2233c"/>
<rect x="204.00" y="527.40" width="1.0" height="2.4" fill="#d2233c"/>
<rect x="49.60" y="498.20" width="1.2" height="91.30" fill="#38383a"/>
<rect x="49.60" y="588.30" width="169.10" height="1.2" fill="#38383a"/>
<g transform="translate(26.00,572.30) rotate(-90)">
<text x="-0.54" y="0.00" font-size="9.0" fill="#2a2a2a" textLength="59.04" lengthAdjust="spacingAndGlyphs" stroke="#2a2a2a" stroke-width="0.32">Percent survival (%)</text>
</g>
<text x="73.29" y="613.40" font-size="9.0" fill="#2a2a2a" textLength="58.63" lengthAdjust="spacingAndGlyphs" stroke="#2a2a2a" stroke-width="0.32">Overall survival from</text>
<path d="M134.69,607.10 L135.50,607.10 L135.50,613.40 L134.69,613.40 L134.69,608.72 L133.28,608.72 L133.28,608.13 C134.13,608.09 134.63,607.82 134.69,607.10 Z" fill="#2a2a2a"/>
<text x="136.38" y="609.62" font-size="6.12" fill="#2a2a2a" textLength="3.25" lengthAdjust="spacingAndGlyphs" stroke="#2a2a2a" stroke-width="0.32">st</text>
<text x="141.72" y="613.40" font-size="9.0" fill="#2a2a2a" textLength="54.29" lengthAdjust="spacingAndGlyphs" stroke="#2a2a2a" stroke-width="0.32">sampling (months)</text>
<path d="M199.73,497.82 L200.40,497.82 L200.40,503.00 L199.73,503.00 L199.73,499.15 L198.57,499.15 L198.57,498.67 C199.28,498.63 199.68,498.41 199.73,497.82 Z" fill="#2a2a2a"/>
<text x="202.18" y="499.89" font-size="4.44" fill="#2a2a2a" textLength="3.25" lengthAdjust="spacingAndGlyphs" stroke="#2a2a2a" stroke-width="0.2">st</text>
<text x="208.80" y="503.00" font-size="7.4" fill="#2a2a2a" textLength="12.18" lengthAdjust="spacingAndGlyphs" stroke="#2a2a2a" stroke-width="0.2">OS</text>
<text x="197.42" y="511.90" font-size="7.4" font-style="italic" fill="#2a2a2a" textLength="5.07" lengthAdjust="spacingAndGlyphs" stroke="#2a2a2a" stroke-width="0.2">p</text>
<rect x="204.90" y="508.95" width="5.00" height="1.9" fill="#767676"/>
<text x="211.60" y="511.90" font-size="7.4" fill="#2a2a2a" textLength="15.51" lengthAdjust="spacingAndGlyphs" stroke="#2a2a2a" stroke-width="0.2">0.00</text>
<path d="M229.20,506.72 L229.92,506.72 L229.92,511.90 L229.20,511.90 L229.20,508.05 L227.95,508.05 L227.95,507.57 C228.70,507.53 229.14,507.31 229.20,506.72 Z" fill="#2a2a2a"/>
<text x="293.77" y="495.00" font-size="10.9" font-weight="bold" fill="#000" textLength="9.06" lengthAdjust="spacingAndGlyphs">D</text>
<rect x="322.70" y="588.40" width="3.1" height="1.0" fill="#38383a"/>
<text x="316.06" y="591.50" font-size="7.4" fill="#2a2a2a" textLength="4.17" lengthAdjust="spacingAndGlyphs" stroke="#2a2a2a" stroke-width="0.2">0</text>
<rect x="322.70" y="570.18" width="3.1" height="1.0" fill="#38383a"/>
<text x="311.35" y="573.28" font-size="7.4" fill="#2a2a2a" textLength="8.91" lengthAdjust="spacingAndGlyphs" stroke="#2a2a2a" stroke-width="0.2">20</text>
<rect x="322.70" y="551.96" width="3.1" height="1.0" fill="#38383a"/>
<text x="311.37" y="555.06" font-size="7.4" fill="#2a2a2a" textLength="8.88" lengthAdjust="spacingAndGlyphs" stroke="#2a2a2a" stroke-width="0.2">40</text>
<rect x="322.70" y="533.74" width="3.1" height="1.0" fill="#38383a"/>
<text x="311.14" y="536.84" font-size="7.4" fill="#2a2a2a" textLength="9.12" lengthAdjust="spacingAndGlyphs" stroke="#2a2a2a" stroke-width="0.2">60</text>
<rect x="322.70" y="515.52" width="3.1" height="1.0" fill="#38383a"/>
<text x="311.19" y="518.62" font-size="7.4" fill="#2a2a2a" textLength="9.07" lengthAdjust="spacingAndGlyphs" stroke="#2a2a2a" stroke-width="0.2">80</text>
<rect x="322.70" y="497.30" width="3.1" height="1.0" fill="#38383a"/>
<path d="M308.95,495.22 L309.68,495.22 L309.68,500.40 L308.95,500.40 L308.95,496.55 L307.69,496.55 L307.69,496.07 C308.45,496.03 308.90,495.81 308.95,495.22 Z" fill="#2a2a2a"/>
<text x="311.32" y="500.40" font-size="7.4" fill="#2a2a2a" textLength="8.94" lengthAdjust="spacingAndGlyphs" stroke="#2a2a2a" stroke-width="0.2">00</text>
<rect x="325.30" y="588.90" width="1.0" height="2.8" fill="#38383a"/>
<text x="323.71" y="600.50" font-size="7.4" fill="#2a2a2a" textLength="4.17" lengthAdjust="spacingAndGlyphs" stroke="#2a2a2a" stroke-width="0.2">0</text>
<rect x="359.34" y="588.90" width="1.0" height="2.8" fill="#38383a"/>
<path d="M357.42,595.32 L358.10,595.32 L358.10,600.50 L357.42,600.50 L357.42,596.65 L356.23,596.65 L356.23,596.17 C356.95,596.13 357.37,595.91 357.42,595.32 Z" fill="#2a2a2a"/>
<text x="359.65" y="600.50" font-size="7.4" fill="#2a2a2a" textLength="4.22" lengthAdjust="spacingAndGlyphs" stroke="#2a2a2a" stroke-width="0.2">2</text>
<rect x="393.38" y="588.90" width="1.0" height="2.8" fill="#38383a"/>
<text x="389.38" y="600.50" font-size="7.4" fill="#2a2a2a" textLength="8.82" lengthAdjust="spacingAndGlyphs" stroke="#2a2a2a" stroke-width="0.2">24</text>
<rect x="427.42" y="588.90" width="1.0" height="2.8" fill="#38383a"/>
<text x="423.52" y="600.50" font-size="7.4" fill="#2a2a2a" textLength="8.86" lengthAdjust="spacingAndGlyphs" stroke="#2a2a2a" stroke-width="0.2">36</text>
<rect x="461.46" y="588.90" width="1.0" height="2.8" fill="#38383a"/>
<text x="457.69" y="600.50" font-size="7.4" fill="#2a2a2a" textLength="8.72" lengthAdjust="spacingAndGlyphs" stroke="#2a2a2a" stroke-width="0.2">48</text>
<rect x="495.50" y="588.90" width="1.0" height="2.8" fill="#38383a"/>
<text x="491.50" y="600.50" font-size="7.4" fill="#2a2a2a" textLength="8.91" lengthAdjust="spacingAndGlyphs" stroke="#2a2a2a" stroke-width="0.2">60</text>
<path d="M325.80,497.80 H343.5 V507.8 H351.85 V517.8 H356.5 V528.2 H398.7 V558 H405.4 V573.8 H496.1" fill="none" stroke="#3fb64b" stroke-width="1.45" stroke-linejoin="miter" stroke-linecap="butt"/>
<rect x="374.20" y="525.80" width="1.0" height="2.4" fill="#3fb64b"/>
<path d="M325.80,497.80 H340.3 V504 H341.2 V510.3 H345.5 V523.6 H347.2 V529.9 H349.2 V536 H356.3 V543.2 H361.9 V549 H365.15 V556.5 H368.3 V562.4 H406.2 V571.1 H414.1 V580 H456 V589" fill="none" stroke="#5e2a82" stroke-width="1.45" stroke-linejoin="miter" stroke-linecap="butt"/>
<rect x="397.00" y="560.00" width="1.0" height="2.4" fill="#5e2a82"/>
<path d="M325.80,497.80 H361.1 V503.6 H363.15 V509.2 H373.8 V514.9 H375.85 V520.8 H395.6 V528.2 H417.3 V537.1 H435.3 V547.8 H472.8 V557.8 H496.1 V573.4" fill="none" stroke="#d2233c" stroke-width="1.45" stroke-linejoin="miter" stroke-linecap="butt"/>
<rect x="341.00" y="495.40" width="1.0" height="2.4" fill="#d2233c"/>
<rect x="348.50" y="495.40" width="1.0" height="2.4" fill="#d2233c"/>
<rect x="353.10" y="495.40" width="1.0" height="2.4" fill="#d2233c"/>
<rect x="356.90" y="495.40" width="1.0" height="2.4" fill="#d2233c"/>
<rect x="381.40" y="518.40" width="1.0" height="2.4" fill="#d2233c"/>
<rect x="394.60" y="518.40" width="1.0" height="2.4" fill="#d2233c"/>
<rect x="403.00" y="525.80" width="1.0" height="2.4" fill="#d2233c"/>
<rect x="476.60" y="555.40" width="1.0" height="2.4" fill="#d2233c"/>
<path d="M325.80,497.80 H351.3 V506.3 H352.8 V514.3 H359.9 V529.9 H361.5 V538.7 H366 V547.3 H381.5 V556.1 H411.7 V566.5 H458.5" fill="none" stroke="#1f5c9a" stroke-width="1.45" stroke-linejoin="miter" stroke-linecap="butt"/>
<rect x="336.90" y="495.40" width="1.0" height="2.4" fill="#1f5c9a"/>
<rect x="394.65" y="553.70" width="1.0" height="2.4" fill="#1f5c9a"/>
<rect x="457.50" y="564.10" width="1.0" height="2.4" fill="#1f5c9a"/>
<rect x="325.20" y="497.30" width="1.2" height="92.20" fill="#38383a"/>
<rect x="325.20" y="588.30" width="171.30" height="1.2" fill="#38383a"/>
<g transform="translate(301.50,571.90) rotate(-90)">
<text x="-0.54" y="0.00" font-size="9.0" fill="#2a2a2a" textLength="58.64" lengthAdjust="spacingAndGlyphs" stroke="#2a2a2a" stroke-width="0.32">Percent survival (%)</text>
</g>
<text x="350.99" y="613.40" font-size="9.0" fill="#2a2a2a" textLength="58.63" lengthAdjust="spacingAndGlyphs" stroke="#2a2a2a" stroke-width="0.32">Overall survival from</text>
<text x="410.87" y="613.40" font-size="9.0" fill="#2a2a2a" textLength="3.66" lengthAdjust="spacingAndGlyphs" stroke="#2a2a2a" stroke-width="0.32">2</text>
<text x="414.15" y="609.62" font-size="6.12" fill="#2a2a2a" textLength="5.89" lengthAdjust="spacingAndGlyphs" stroke="#2a2a2a" stroke-width="0.32">nd</text>
<text x="421.82" y="613.40" font-size="9.0" fill="#2a2a2a" textLength="49.19" lengthAdjust="spacingAndGlyphs" stroke="#2a2a2a" stroke-width="0.32">sample (months)</text>
<text x="457.61" y="503.00" font-size="7.4" fill="#2a2a2a" textLength="4.39" lengthAdjust="spacingAndGlyphs" stroke="#2a2a2a" stroke-width="0.2">2</text>
<text x="462.15" y="499.89" font-size="4.44" fill="#2a2a2a" textLength="7.59" lengthAdjust="spacingAndGlyphs" stroke="#2a2a2a" stroke-width="0.2">nd</text>
<text x="470.80" y="503.00" font-size="7.4" fill="#2a2a2a" textLength="12.18" lengthAdjust="spacingAndGlyphs" stroke="#2a2a2a" stroke-width="0.2">OS</text>
<text x="457.82" y="511.90" font-size="7.4" font-style="italic" fill="#2a2a2a" textLength="5.07" lengthAdjust="spacingAndGlyphs" stroke="#2a2a2a" stroke-width="0.2">p</text>
<rect x="465.00" y="508.95" width="5.00" height="1.9" fill="#767676"/>
<text x="471.90" y="511.90" font-size="7.4" fill="#2a2a2a" textLength="11.12" lengthAdjust="spacingAndGlyphs" stroke="#2a2a2a" stroke-width="0.2">0.0</text>
<path d="M485.11,506.72 L485.83,506.72 L485.83,511.90 L485.11,511.90 L485.11,508.05 L483.85,508.05 L483.85,507.57 C484.61,507.53 485.05,507.31 485.11,506.72 Z" fill="#2a2a2a"/>
<text x="487.46" y="511.90" font-size="7.4" fill="#2a2a2a" textLength="4.45" lengthAdjust="spacingAndGlyphs" stroke="#2a2a2a" stroke-width="0.2">0</text>
<rect x="435.1" y="358.35" width="11.5" height="1.1" fill="#d2233c"/>
<rect x="440.4" y="356.70" width="0.9" height="2.2" fill="#d2233c"/>
<text x="449.53" y="361.25" font-size="7.3" fill="#2a2a2a" textLength="58.83" lengthAdjust="spacingAndGlyphs" stroke="#2a2a2a" stroke-width="0.2">Stable progression</text>
<rect x="435.1" y="368.55" width="11.5" height="1.1" fill="#1f5c9a"/>
<rect x="440.4" y="366.90" width="0.9" height="2.2" fill="#1f5c9a"/>
<text x="449.28" y="371.45" font-size="7.3" fill="#2a2a2a" textLength="62.46" lengthAdjust="spacingAndGlyphs" stroke="#2a2a2a" stroke-width="0.2">Differential evolution</text>
<rect x="435.1" y="378.75" width="11.5" height="1.1" fill="#3fb64b"/>
<rect x="440.4" y="377.10" width="0.9" height="2.2" fill="#3fb64b"/>
<text x="449.28" y="381.65" font-size="7.3" fill="#2a2a2a" textLength="61.16" lengthAdjust="spacingAndGlyphs" stroke="#2a2a2a" stroke-width="0.2">Branching evolution</text>
<rect x="435.1" y="388.95" width="11.5" height="1.1" fill="#5e2a82"/>
<rect x="440.4" y="387.30" width="0.9" height="2.2" fill="#5e2a82"/>
<text x="449.29" y="391.85" font-size="7.3" fill="#2a2a2a" textLength="48.35" lengthAdjust="spacingAndGlyphs" stroke="#2a2a2a" stroke-width="0.2">Linear evolution</text>
<rect x="0.5" y="0.5" width="519" height="622" fill="none" stroke="#1a1718" stroke-width="1.1"/>
</svg>
</body></html>
